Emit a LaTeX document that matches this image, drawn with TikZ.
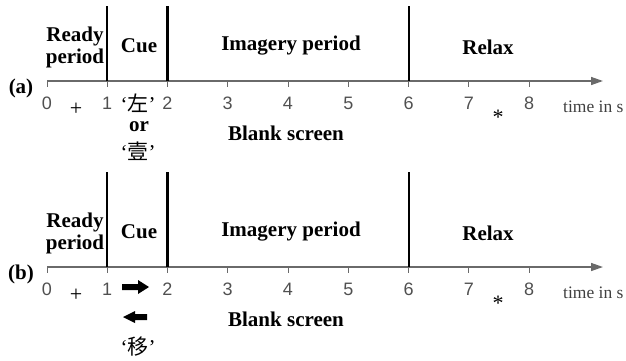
\documentclass[tikz,border=0pt]{standalone}
\usepackage{fontspec}
\setmainfont{Liberation Serif}
\newfontfamily\digitfont{Liberation Sans}
\newfontfamily\cjk{Noto Sans CJK SC}
\usetikzlibrary{arrows.meta}
\definecolor{axisgray}{HTML}{6A6A6A}
\definecolor{numgray}{HTML}{505050}
\definecolor{unitgray}{HTML}{404040}

\begin{document}
\begin{tikzpicture}[x=1pt,y=-1pt,
  lbl/.style={font=\fontsize{21}{22}\selectfont\bfseries, align=center, inner sep=0pt},
  num/.style={font=\fontsize{18}{18}\selectfont\digitfont, text=numgray, inner sep=0pt},
  unit/.style={font=\fontsize{17.5}{17.5}\selectfont, text=unitgray, inner sep=0pt, anchor=west},
  cjklbl/.style={font=\fontsize{21}{22}\selectfont, inner sep=0pt},
  timeaxis/.style={draw=axisgray, line width=1.4pt, -{Triangle[length=12pt,width=8pt]}},
  tickmark/.style={draw=axisgray, line width=1pt},
  divider/.style={draw=black, line width=1.8pt},
  symb/.style={font=\fontsize{22}{22}\selectfont, inner sep=0pt},
  blockarrow/.style={fill=black}]
\useasboundingbox (0,0) rectangle (626,360);

\foreach \p/\ay/\tp in {a/81/6, b/267/172}{
  % time axis with ticks and second labels
  \coordinate (\p-start) at (47,\ay);
  \coordinate (\p-end) at (603,\ay);
  \draw[timeaxis] (\p-start) -- (\p-end);
  \foreach \i in {0,...,8}{
    \coordinate (\p-t\i) at ({47+60.25*\i},\ay);
    \draw[tickmark] (\p-t\i) -- ++(0,6);
    \node[num] (\p-n\i) at ({47+60.25*\i},{\ay+22}) {\i};
  }
  % period boundaries
  \foreach \i/\w in {1/1.6pt, 2/2.2pt, 6/2pt}{
    \coordinate (\p-top\i) at ({47+60.25*\i},\tp);
    \draw[divider, line width=\w] (\p-top\i) -- (\p-t\i);
  }
  % period names
  \node[lbl] (\p-ready) at (75,{\ay-34}) {Ready\\period};
  \node[lbl] (\p-cue) at (139,{\ay-35}) {Cue};
  \node[lbl] (\p-imagery) at (291,{\ay-35}) {Imagery period};
  \node[lbl] (\p-relax) at (488,{\ay-34}) {Relax};
  \node[lbl] (\p-tag) at (21,{\ay+7}) {(\p)};
  % screen contents
  \node[symb] (\p-fix) at (76,{\ay+28}) {+};
  \node[symb] (\p-star) at (498,{\ay+36}) {*};
  \node[unit] (\p-unit) at (563,{\ay+26}) {time in s};
  \node[lbl] (\p-blank) at (286,{\ay+52}) {Blank screen};
}

% cue characters of panel (a)
\node[cjklbl] (a-left) at (138,103) {‘{\cjk 左}’};
\node[lbl] (a-or) at (139,127) {or};
\node[cjklbl] (a-one) at (138,151) {‘{\cjk 壹}’};

% arrow cues of panel (b)
\fill[blockarrow] (122,284) -- (138,284) -- (138,280) -- (149,287)
  -- (138,294) -- (138,290) -- (122,290) -- cycle;
\fill[blockarrow] (147,314) -- (135,314) -- (135,311) -- (123,317)
  -- (135,323) -- (135,320) -- (147,320) -- cycle;
\node[cjklbl] (b-move) at (138,347) {‘{\cjk 移}’};
\end{tikzpicture}
\end{document}
